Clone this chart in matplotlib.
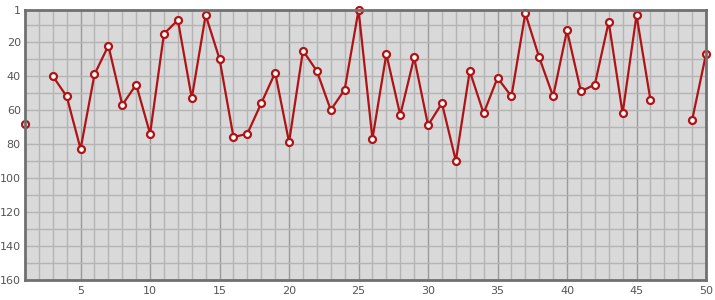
import numpy as np
import matplotlib
matplotlib.use("Agg")
from matplotlib import pyplot as plt

# rank per position, None = no value
positions = list(range(1, 51))
ranks = [68, None, 40, 52, 83, 39, 22, 57, 45, 74,
         15, 7, 53, 4, 30, 76, 74, 56, 38, 79,
         25, 37, 60, 48, 1, 77, 27, 63, 29, 69,
         56, 90, 37, 62, 41, 52, 3, 29, 52, 13,
         49, 45, 8, 62, 4, 54, None, None, 66, 27]
xticks = [5, 10, 15, 20, 25, 30, 35, 40, 45, 50]
yticks = [1, 20, 40, 60, 80, 100, 120, 140, 160]

vals = np.array([np.nan if r is None else r for r in ranks], dtype=float)

fig = plt.figure(figsize=(7.15, 3.0), dpi=100)
ax = fig.add_axes([25/715, 1 - 279.5/300, (706 - 25)/715, (279.5 - 10)/300])
ax.set_facecolor("#d9d9d9")

# grid: thin lines every unit / every 10, darker every 5 on x
for x in range(1, 51):
    c = "#9a9a9a" if x % 5 == 0 else "#b4b4b4"
    ax.axvline(x, color=c, lw=1, zorder=1)
for y in range(10, 160, 10):
    ax.axhline(y, color="#b4b4b4", lw=1, zorder=1)

ax.plot(positions, vals, color="#b01316", lw=1.6, marker="o", ms=5,
        mfc="white", mec="#b01316", mew=1.6, zorder=3, clip_on=False)

ax.set_xlim(1, 50)
ax.set_ylim(160, 1)
ax.set_xticks(xticks)
ax.set_yticks(yticks)
ax.tick_params(length=0, labelsize=8, labelcolor="#555555")
ax.tick_params(axis="y", pad=3)
ax.tick_params(axis="x", pad=5)
for s in ax.spines.values():
    s.set_color("#707070")
    s.set_linewidth(2)
    s.set_zorder(4)

fig.savefig("out.png", dpi=100)
